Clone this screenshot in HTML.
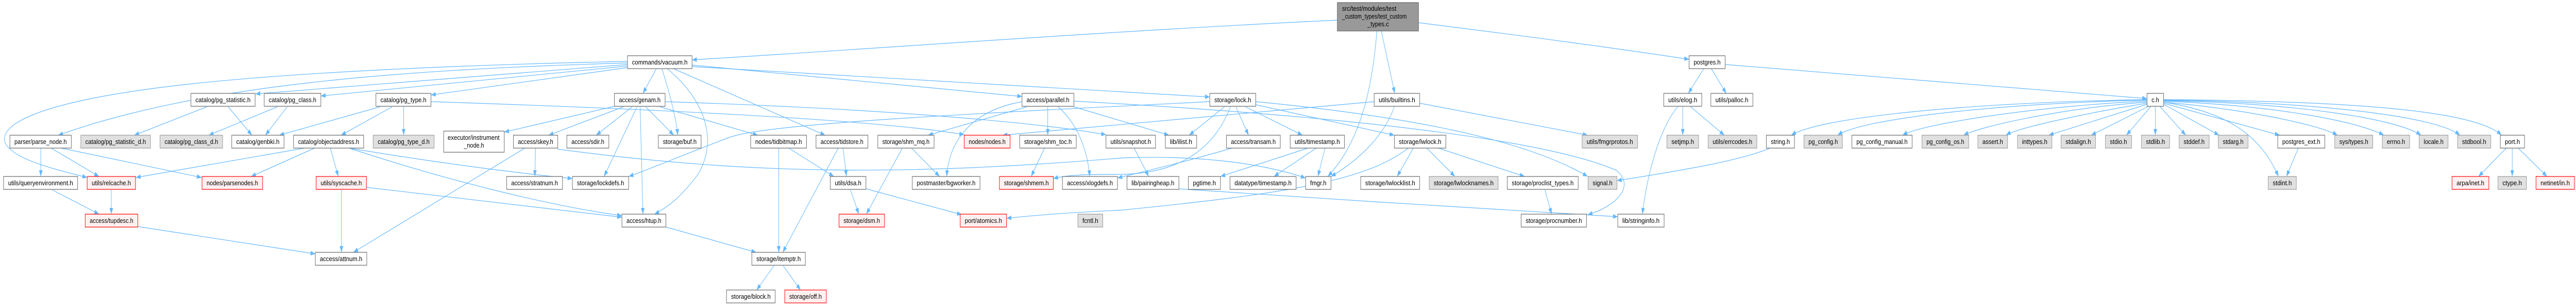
<!DOCTYPE html>
<html><head><meta charset="utf-8"><style>
html,body{margin:0;padding:0;background:#fff;width:100%;overflow:hidden;}
svg{display:block;width:100%;height:593px;}
.e{fill:none;stroke:#63b8ff;stroke-width:1.2;marker-end:url(#ah);}
.n{fill:#fff;stroke:#666;stroke-width:1.2;}
.g{fill:#e0e0e0;stroke:#999;stroke-width:1.2;}
.r{fill:#fff0f0;stroke:#f00;stroke-width:1.2;}
.top{fill:#999;stroke:#666;stroke-width:1.2;}
text{font-family:"Liberation Sans",sans-serif;font-size:13px;fill:#000;text-anchor:middle;}
</style></head><body>
<svg viewBox="0 0 6503 593" preserveAspectRatio="none" xmlns="http://www.w3.org/2000/svg">
<defs><marker id="ah" viewBox="0 0 12 9" refX="12" refY="4.5" markerWidth="12" markerHeight="9" markerUnits="userSpaceOnUse" orient="auto"><path d="M0,0L12,4.5L0,9z" fill="#63b8ff"/></marker></defs>
<rect width="6503" height="593" fill="#fff"/>
<g>
<path class="e" d="M3376,39 C2800,60 2200,95 1747,116"/>
<path class="e" d="M3476,60 C3465,160 3440,270 3352,342"/>
<path class="e" d="M3487,60 L3521,181"/>
<path class="e" d="M3581,44 C3800,65 4050,90 4264,115"/>
<path class="e" d="M1584,119 C1200,125 700,140 400,170 C100,200 0,240 12,275 C30,310 150,330 220,344"/>
<path class="e" d="M1584,122 C1000,135 500,165 147,262"/>
<path class="e" d="M1584,125 L645,182"/>
<path class="e" d="M1584,128 L810,186"/>
<path class="e" d="M1584,131 L1088,184"/>
<path class="e" d="M1657,133 L1623,181"/>
<path class="e" d="M1671,133 C1690,180 1706,225 1711,262"/>
<path class="e" d="M1684,133 C1790,200 1810,280 1760,340 C1720,380 1690,400 1652,415"/>
<path class="e" d="M1700,133 L2083,262"/>
<path class="e" d="M1747,126 L2580,187"/>
<path class="e" d="M1747,129 L3054,188"/>
<path class="e" d="M522,207 L339,262"/>
<path class="e" d="M576,207 L636,262"/>
<path class="e" d="M700,207 L527,262"/>
<path class="e" d="M725,207 L670,262"/>
<path class="e" d="M959,207 L705,262"/>
<path class="e" d="M990,207 L861,262"/>
<path class="e" d="M1019,207 L1019,262"/>
<path class="e" d="M1088,197 C1600,210 2200,230 2434,261"/>
<path class="e" d="M1551,206 L1273,256"/>
<path class="e" d="M1574,207 L1385,262"/>
<path class="e" d="M1596,207 L1505,262"/>
<path class="e" d="M1608,207 L1525,342"/>
<path class="e" d="M1616,207 L1623,415"/>
<path class="e" d="M1630,207 L1701,262"/>
<path class="e" d="M1666,207 L1913,262"/>
<path class="e" d="M1679,197 C2200,210 2600,235 2792,261"/>
<path class="e" d="M769,287 L343,344"/>
<path class="e" d="M794,287 L634,342"/>
<path class="e" d="M834,287 L854,342"/>
<path class="e" d="M881,287 C1100,315 1300,335 1445,346"/>
<path class="e" d="M881,287 C1150,355 1400,400 1570,418"/>
<path class="e" d="M862,368 L862,489"/>
<path class="e" d="M925,363 L1570,421"/>
<path class="e" d="M103,287 L103,342"/>
<path class="e" d="M129,287 L250,342"/>
<path class="e" d="M154,287 L509,344"/>
<path class="e" d="M132,368 L250,415"/>
<path class="e" d="M281,368 L281,415"/>
<path class="e" d="M348,439 L796,492"/>
<path class="e" d="M1325,287 L892,489"/>
<path class="e" d="M1352,287 L1350,342"/>
<path class="e" d="M1408,289 C1900,340 2300,340 2834,306 C3050,300 3200,320 3296,345"/>
<path class="e" d="M1966,287 L1966,489"/>
<path class="e" d="M1991,287 L2105,342"/>
<path class="e" d="M2116,287 L1976,489"/>
<path class="e" d="M2128,287 L2137,342"/>
<path class="e" d="M1681,440 L1909,489"/>
<path class="e" d="M1954,515 L1910,562"/>
<path class="e" d="M1977,515 L2021,562"/>
<path class="e" d="M2147,368 L2168,415"/>
<path class="e" d="M2187,366 L2428,416"/>
<path class="e" d="M2278,287 L2187,415"/>
<path class="e" d="M2301,287 L2372,342"/>
<path class="e" d="M2580,197 C2450,215 2395,275 2390,342"/>
<path class="e" d="M2592,207 L2343,262"/>
<path class="e" d="M2645,207 L2645,262"/>
<path class="e" d="M2671,207 C2720,240 2745,290 2751,342"/>
<path class="e" d="M2711,207 L2951,262"/>
<path class="e" d="M2711,196 C3400,225 3900,270 4080,330 C4130,360 4080,400 4008,416"/>
<path class="e" d="M2637,287 L2603,342"/>
<path class="e" d="M3054,197 C2400,222 1950,240 1846,265 C1740,295 1650,325 1587,342"/>
<path class="e" d="M3091,207 L3002,262"/>
<path class="e" d="M3106,207 C3060,300 2960,335 2834,338 C2750,338 2700,338 2659,346"/>
<path class="e" d="M3120,207 L3152,262"/>
<path class="e" d="M3144,207 L3288,262"/>
<path class="e" d="M3170,203 L3520,262"/>
<path class="e" d="M3170,197 C3550,225 3850,270 4008,342"/>
<path class="e" d="M3110,287 C3000,312 2900,330 2821,345"/>
<path class="e" d="M3302,287 L3081,342"/>
<path class="e" d="M3323,287 L3216,342"/>
<path class="e" d="M3345,287 L3327,342"/>
<path class="e" d="M3520,207 C3490,270 3420,315 3360,342"/>
<path class="e" d="M3469,197 L2531,262"/>
<path class="e" d="M3584,200 L4008,262"/>
<path class="e" d="M3568,287 L3527,342"/>
<path class="e" d="M3602,287 L3673,342"/>
<path class="e" d="M3631,287 L3849,342"/>
<path class="e" d="M3555,287 C3450,350 3250,375 2834,407 C2700,412 2600,418 2541,423"/>
<path class="e" d="M2976,366 C3300,385 3800,405 4084,420"/>
<path class="e" d="M2863,287 L2900,342"/>
<path class="e" d="M3900,368 L3917,415"/>
<path class="e" d="M4248,207 L4248,262"/>
<path class="e" d="M4235,207 C4190,250 4160,330 4146,415"/>
<path class="e" d="M4268,207 L4353,262"/>
<path class="e" d="M4468,287 C4400,310 4250,330 4082,350"/>
<path class="e" d="M4301,133 L4262,181"/>
<path class="e" d="M4320,133 L4358,181"/>
<path class="e" d="M4355,125 L5420,191"/>
<path class="e" d="M5420,193 C5000,198 4600,225 4522,262"/>
<path class="e" d="M5420,194 C5050,200 4700,230 4639,262"/>
<path class="e" d="M5420,196 C5150,205 4850,240 4803,262"/>
<path class="e" d="M5420,198 C5200,210 5000,245 4957,262"/>
<path class="e" d="M5420,200 C5300,215 5100,245 5064,262"/>
<path class="e" d="M5420,202 L5172,262"/>
<path class="e" d="M5424,206 L5279,262"/>
<path class="e" d="M5430,206 L5368,262"/>
<path class="e" d="M5441,206 L5441,262"/>
<path class="e" d="M5452,206 L5518,262"/>
<path class="e" d="M5462,202 L5602,262"/>
<path class="e" d="M5462,200 L5755,262"/>
<path class="e" d="M5462,198 C5600,215 5700,250 5752,342"/>
<path class="e" d="M5462,198 C5650,210 5850,240 5901,262"/>
<path class="e" d="M5462,196 C5750,205 5950,235 6018,262"/>
<path class="e" d="M5462,195 C5800,200 6050,230 6112,262"/>
<path class="e" d="M5462,194 C5850,198 6150,225 6210,262"/>
<path class="e" d="M5462,193 C5950,196 6250,215 6315,262"/>
<path class="e" d="M6327,287 L6257,342"/>
<path class="e" d="M6342,287 L6342,342"/>
<path class="e" d="M6357,287 L6430,342"/>
<path class="e" d="M5802,287 L5772,342"/>
</g>
<g>
<rect class="top" x="3376" y="5" width="205" height="55"/>
<text x="3388" y="21" style="text-anchor:start" textLength="137" lengthAdjust="spacingAndGlyphs">src/test/modules/test</text>
<text x="3388" y="36" style="text-anchor:start" textLength="163" lengthAdjust="spacingAndGlyphs">_custom_types/test_custom</text>
<text x="3479" y="51" textLength="54" lengthAdjust="spacingAndGlyphs">_types.c</text>

<rect class="n" x="1584" y="108" width="163" height="25"/><text x="1665.5" y="125" textLength="140" lengthAdjust="spacingAndGlyphs">commands/vacuum.h</text>
<rect class="n" x="4264" y="108" width="91" height="25"/><text x="4309.5" y="125" textLength="68" lengthAdjust="spacingAndGlyphs">postgres.h</text>

<rect class="n" x="482" y="181" width="162" height="25"/><text x="563" y="198" textLength="139" lengthAdjust="spacingAndGlyphs">catalog/pg_statistic.h</text>
<rect class="n" x="667" y="181" width="143" height="25"/><text x="738.5" y="198" textLength="120" lengthAdjust="spacingAndGlyphs">catalog/pg_class.h</text>
<rect class="n" x="949" y="181" width="139" height="25"/><text x="1018.5" y="198" textLength="116" lengthAdjust="spacingAndGlyphs">catalog/pg_type.h</text>
<rect class="n" x="1551" y="181" width="128" height="25"/><text x="1615" y="198" textLength="105" lengthAdjust="spacingAndGlyphs">access/genam.h</text>
<rect class="n" x="2580" y="181" width="131" height="25"/><text x="2645.5" y="198" textLength="108" lengthAdjust="spacingAndGlyphs">access/parallel.h</text>
<rect class="n" x="3054" y="181" width="116" height="25"/><text x="3112" y="198" textLength="93" lengthAdjust="spacingAndGlyphs">storage/lock.h</text>
<rect class="n" x="3469" y="181" width="115" height="25"/><text x="3526.5" y="198" textLength="92" lengthAdjust="spacingAndGlyphs">utils/builtins.h</text>
<rect class="n" x="4200" y="181" width="96" height="25"/><text x="4248" y="198" textLength="73" lengthAdjust="spacingAndGlyphs">utils/elog.h</text>
<rect class="n" x="4319" y="181" width="106" height="25"/><text x="4372" y="198" textLength="83" lengthAdjust="spacingAndGlyphs">utils/palloc.h</text>
<rect class="n" x="5420" y="181" width="42" height="25"/><text x="5441" y="198" textLength="19" lengthAdjust="spacingAndGlyphs">c.h</text>

<rect class="n" x="25" y="262" width="155" height="25"/><text x="102.5" y="279" textLength="132" lengthAdjust="spacingAndGlyphs">parser/parse_node.h</text>
<rect class="g" x="204" y="262" width="176" height="25"/><text x="292" y="279" textLength="153" lengthAdjust="spacingAndGlyphs">catalog/pg_statistic_d.h</text>
<rect class="g" x="404" y="262" width="158" height="25"/><text x="483" y="279" textLength="135" lengthAdjust="spacingAndGlyphs">catalog/pg_class_d.h</text>
<rect class="n" x="585" y="262" width="132" height="25"/><text x="651" y="279" textLength="109" lengthAdjust="spacingAndGlyphs">catalog/genbki.h</text>
<rect class="n" x="741" y="262" width="177" height="25"/><text x="829.5" y="279" textLength="154" lengthAdjust="spacingAndGlyphs">catalog/objectaddress.h</text>
<rect class="g" x="942" y="262" width="154" height="25"/><text x="1019" y="279" textLength="131" lengthAdjust="spacingAndGlyphs">catalog/pg_type_d.h</text>
<rect class="n" x="1120" y="254" width="153" height="41"/>
<text x="1130" y="271" style="text-anchor:start" textLength="131" lengthAdjust="spacingAndGlyphs">executor/instrument</text>
<text x="1196.5" y="286" textLength="51" lengthAdjust="spacingAndGlyphs">_node.h</text>
<rect class="n" x="1296" y="262" width="112" height="25"/><text x="1352" y="279" textLength="89" lengthAdjust="spacingAndGlyphs">access/skey.h</text>
<rect class="n" x="1431" y="262" width="106" height="25"/><text x="1484" y="279" textLength="83" lengthAdjust="spacingAndGlyphs">access/sdir.h</text>
<rect class="n" x="1662" y="262" width="108" height="25"/><text x="1716" y="279" textLength="85" lengthAdjust="spacingAndGlyphs">storage/buf.h</text>
<rect class="n" x="1895" y="262" width="141" height="25"/><text x="1965.5" y="279" textLength="118" lengthAdjust="spacingAndGlyphs">nodes/tidbitmap.h</text>
<rect class="n" x="2060" y="262" width="131" height="25"/><text x="2125.5" y="279" textLength="108" lengthAdjust="spacingAndGlyphs">access/tidstore.h</text>
<rect class="n" x="2216" y="262" width="142" height="25"/><text x="2287" y="279" textLength="119" lengthAdjust="spacingAndGlyphs">storage/shm_mq.h</text>
<rect class="r" x="2434" y="262" width="116" height="25"/><text x="2492" y="279" textLength="93" lengthAdjust="spacingAndGlyphs">nodes/nodes.h</text>
<rect class="n" x="2574" y="262" width="143" height="25"/><text x="2645.5" y="279" textLength="120" lengthAdjust="spacingAndGlyphs">storage/shm_toc.h</text>
<rect class="n" x="2792" y="262" width="125" height="25"/><text x="2854.5" y="279" textLength="102" lengthAdjust="spacingAndGlyphs">utils/snapshot.h</text>
<rect class="n" x="2942" y="262" width="79" height="25"/><text x="2981.5" y="279" textLength="56" lengthAdjust="spacingAndGlyphs">lib/ilist.h</text>
<rect class="n" x="3096" y="262" width="136" height="25"/><text x="3164" y="279" textLength="113" lengthAdjust="spacingAndGlyphs">access/transam.h</text>
<rect class="n" x="3257" y="262" width="137" height="25"/><text x="3325.5" y="279" textLength="114" lengthAdjust="spacingAndGlyphs">utils/timestamp.h</text>
<rect class="n" x="3520" y="262" width="130" height="25"/><text x="3585" y="279" textLength="107" lengthAdjust="spacingAndGlyphs">storage/lwlock.h</text>
<rect class="g" x="3994" y="262" width="140" height="25"/><text x="4064" y="279" textLength="117" lengthAdjust="spacingAndGlyphs">utils/fmgrprotos.h</text>
<rect class="g" x="4208" y="262" width="80" height="25"/><text x="4248" y="279" textLength="57" lengthAdjust="spacingAndGlyphs">setjmp.h</text>
<rect class="g" x="4312" y="262" width="123" height="25"/><text x="4373.5" y="279" textLength="100" lengthAdjust="spacingAndGlyphs">utils/errcodes.h</text>
<rect class="n" x="4459" y="262" width="71" height="25"/><text x="4494.5" y="279" textLength="48" lengthAdjust="spacingAndGlyphs">string.h</text>
<rect class="g" x="4554" y="262" width="97" height="25"/><text x="4602.5" y="279" textLength="74" lengthAdjust="spacingAndGlyphs">pg_config.h</text>
<rect class="n" x="4675" y="262" width="152" height="25"/><text x="4751" y="279" textLength="129" lengthAdjust="spacingAndGlyphs">pg_config_manual.h</text>
<rect class="g" x="4852" y="262" width="118" height="25"/><text x="4911" y="279" textLength="95" lengthAdjust="spacingAndGlyphs">pg_config_os.h</text>
<rect class="g" x="4993" y="262" width="75" height="25"/><text x="5030.5" y="279" textLength="52" lengthAdjust="spacingAndGlyphs">assert.h</text>
<rect class="g" x="5093" y="262" width="87" height="25"/><text x="5136.5" y="279" textLength="64" lengthAdjust="spacingAndGlyphs">inttypes.h</text>
<rect class="g" x="5203" y="262" width="87" height="25"/><text x="5246.5" y="279" textLength="64" lengthAdjust="spacingAndGlyphs">stdalign.h</text>
<rect class="g" x="5315" y="262" width="66" height="25"/><text x="5348" y="279" textLength="43" lengthAdjust="spacingAndGlyphs">stdio.h</text>
<rect class="g" x="5406" y="262" width="71" height="25"/><text x="5441.5" y="279" textLength="48" lengthAdjust="spacingAndGlyphs">stdlib.h</text>
<rect class="g" x="5501" y="262" width="76" height="25"/><text x="5539" y="279" textLength="53" lengthAdjust="spacingAndGlyphs">stddef.h</text>
<rect class="g" x="5600" y="262" width="75" height="25"/><text x="5637.5" y="279" textLength="52" lengthAdjust="spacingAndGlyphs">stdarg.h</text>
<rect class="n" x="5750" y="262" width="119" height="25"/><text x="5809.5" y="279" textLength="96" lengthAdjust="spacingAndGlyphs">postgres_ext.h</text>
<rect class="g" x="5894" y="262" width="96" height="25"/><text x="5942" y="279" textLength="73" lengthAdjust="spacingAndGlyphs">sys/types.h</text>
<rect class="g" x="6014" y="262" width="69" height="25"/><text x="6048.5" y="279" textLength="46" lengthAdjust="spacingAndGlyphs">errno.h</text>
<rect class="g" x="6107" y="262" width="73" height="25"/><text x="6143.5" y="279" textLength="50" lengthAdjust="spacingAndGlyphs">locale.h</text>
<rect class="g" x="6204" y="262" width="84" height="25"/><text x="6246" y="279" textLength="61" lengthAdjust="spacingAndGlyphs">stdbool.h</text>
<rect class="n" x="6312" y="262" width="61" height="25"/><text x="6342.5" y="279" textLength="38" lengthAdjust="spacingAndGlyphs">port.h</text>

<rect class="n" x="9" y="342" width="187" height="25"/><text x="102.5" y="359" textLength="164" lengthAdjust="spacingAndGlyphs">utils/queryenvironment.h</text>
<rect class="r" x="220" y="342" width="122" height="25"/><text x="281" y="359" textLength="99" lengthAdjust="spacingAndGlyphs">utils/relcache.h</text>
<rect class="r" x="510" y="342" width="153" height="25"/><text x="586.5" y="359" textLength="130" lengthAdjust="spacingAndGlyphs">nodes/parsenodes.h</text>
<rect class="r" x="798" y="342" width="127" height="25"/><text x="861.5" y="359" textLength="104" lengthAdjust="spacingAndGlyphs">utils/syscache.h</text>
<rect class="n" x="1279" y="342" width="141" height="25"/><text x="1349.5" y="359" textLength="118" lengthAdjust="spacingAndGlyphs">access/stratnum.h</text>
<rect class="n" x="1445" y="342" width="142" height="25"/><text x="1516" y="359" textLength="119" lengthAdjust="spacingAndGlyphs">storage/lockdefs.h</text>
<rect class="n" x="2096" y="342" width="90" height="25"/><text x="2141" y="359" textLength="67" lengthAdjust="spacingAndGlyphs">utils/dsa.h</text>
<rect class="n" x="2303" y="342" width="171" height="25"/><text x="2388.5" y="359" textLength="148" lengthAdjust="spacingAndGlyphs">postmaster/bgworker.h</text>
<rect class="r" x="2523" y="342" width="136" height="25"/><text x="2591" y="359" textLength="113" lengthAdjust="spacingAndGlyphs">storage/shmem.h</text>
<rect class="n" x="2682" y="342" width="139" height="25"/><text x="2751.5" y="359" textLength="116" lengthAdjust="spacingAndGlyphs">access/xlogdefs.h</text>
<rect class="n" x="2845" y="342" width="131" height="25"/><text x="2910.5" y="359" textLength="108" lengthAdjust="spacingAndGlyphs">lib/pairingheap.h</text>
<rect class="n" x="3000" y="342" width="81" height="25"/><text x="3040.5" y="359" textLength="58" lengthAdjust="spacingAndGlyphs">pgtime.h</text>
<rect class="n" x="3105" y="342" width="167" height="25"/><text x="3188.5" y="359" textLength="144" lengthAdjust="spacingAndGlyphs">datatype/timestamp.h</text>
<rect class="n" x="3296" y="342" width="64" height="25"/><text x="3328" y="359" textLength="41" lengthAdjust="spacingAndGlyphs">fmgr.h</text>
<rect class="n" x="3435" y="342" width="149" height="25"/><text x="3509.5" y="359" textLength="126" lengthAdjust="spacingAndGlyphs">storage/lwlocklist.h</text>
<rect class="g" x="3608" y="342" width="174" height="25"/><text x="3695" y="359" textLength="151" lengthAdjust="spacingAndGlyphs">storage/lwlocknames.h</text>
<rect class="n" x="3805" y="342" width="179" height="25"/><text x="3894.5" y="359" textLength="156" lengthAdjust="spacingAndGlyphs">storage/proclist_types.h</text>
<rect class="g" x="4009" y="342" width="73" height="25"/><text x="4045.5" y="359" textLength="50" lengthAdjust="spacingAndGlyphs">signal.h</text>
<rect class="g" x="5726" y="342" width="71" height="25"/><text x="5761.5" y="359" textLength="48" lengthAdjust="spacingAndGlyphs">stdint.h</text>
<rect class="r" x="6190" y="342" width="93" height="25"/><text x="6236.5" y="359" textLength="70" lengthAdjust="spacingAndGlyphs">arpa/inet.h</text>
<rect class="g" x="6306" y="342" width="72" height="25"/><text x="6342" y="359" textLength="49" lengthAdjust="spacingAndGlyphs">ctype.h</text>
<rect class="r" x="6402" y="342" width="97" height="25"/><text x="6450.5" y="359" textLength="74" lengthAdjust="spacingAndGlyphs">netinet/in.h</text>

<rect class="r" x="215" y="415" width="133" height="25"/><text x="281.5" y="432" textLength="110" lengthAdjust="spacingAndGlyphs">access/tupdesc.h</text>
<rect class="n" x="1570" y="415" width="111" height="25"/><text x="1625.5" y="432" textLength="88" lengthAdjust="spacingAndGlyphs">access/htup.h</text>
<rect class="r" x="2118" y="415" width="115" height="25"/><text x="2175.5" y="432" textLength="92" lengthAdjust="spacingAndGlyphs">storage/dsm.h</text>
<rect class="r" x="2424" y="415" width="117" height="25"/><text x="2482.5" y="432" textLength="94" lengthAdjust="spacingAndGlyphs">port/atomics.h</text>
<rect class="g" x="2721" y="415" width="63" height="25"/><text x="2752.5" y="432" textLength="40" lengthAdjust="spacingAndGlyphs">fcntl.h</text>
<rect class="n" x="3840" y="415" width="165" height="25"/><text x="3922.5" y="432" textLength="142" lengthAdjust="spacingAndGlyphs">storage/procnumber.h</text>
<rect class="n" x="4084" y="415" width="117" height="25"/><text x="4142.5" y="432" textLength="94" lengthAdjust="spacingAndGlyphs">lib/stringinfo.h</text>

<rect class="n" x="796" y="489" width="130" height="25"/><text x="861" y="506" textLength="107" lengthAdjust="spacingAndGlyphs">access/attnum.h</text>
<rect class="n" x="1898" y="489" width="135" height="25"/><text x="1965.5" y="506" textLength="112" lengthAdjust="spacingAndGlyphs">storage/itemptr.h</text>

<rect class="n" x="1834" y="562" width="123" height="25"/><text x="1895.5" y="579" textLength="100" lengthAdjust="spacingAndGlyphs">storage/block.h</text>
<rect class="r" x="1981" y="562" width="105" height="25"/><text x="2033.5" y="579" textLength="82" lengthAdjust="spacingAndGlyphs">storage/off.h</text>
</g>
</svg>
</body></html>
